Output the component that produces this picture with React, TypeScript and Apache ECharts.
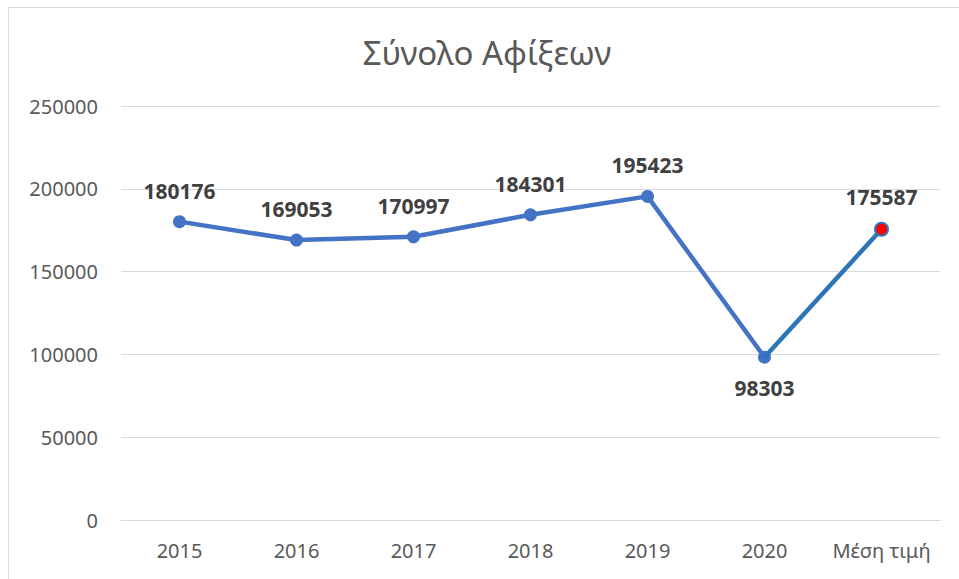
import React, { useEffect, useRef } from "react";
import * as echarts from "echarts";

const title = "Σύνολο Αφίξεων";
const categories = ["2015", "2016", "2017", "2018", "2019", "2020", "Μέση τιμή"];
const yearValues = [180176, 169053, 170997, 184301, 195423, 98303];
const averageValue = 175587;
const yTicks = { min: 0, max: 250000, interval: 50000 };

const FONT = "'Noto Sans', 'Open Sans', sans-serif";

export default function App() {
  const ref = useRef<HTMLDivElement>(null);
  useEffect(() => {
    if (!ref.current) return;
    const chart = echarts.init(ref.current, null, { renderer: "svg" });
    const n = yearValues.length;
    const series1: any[] = [...yearValues, "-"].map((v, i) =>
      i === n - 1 ? { value: v, label: { position: "bottom", distance: 14 } } : v
    );
    const series2: any[] = categories.map((_, i) => {
      if (i === n - 1) return { value: yearValues[n - 1], symbol: "none", label: { show: false } };
      if (i === n) return { value: averageValue };
      return "-";
    });
    const labelStyle = {
      show: true,
      position: "top",
      distance: 14,
      color: "#404040",
      fontSize: 21,
      fontWeight: "bold",
      fontFamily: FONT,
      formatter: (p: any) => String(p.value),
    };
    chart.setOption({
      animation: false,
      backgroundColor: "#ffffff",
      textStyle: { fontFamily: FONT },
      graphic: [
        { type: "line", shape: { x1: 8.5, y1: 7.5, x2: 959, y2: 7.5 }, style: { stroke: "#d9d9d9", lineWidth: 1 } },
        { type: "line", shape: { x1: 8.5, y1: 7.5, x2: 8.5, y2: 579 }, style: { stroke: "#d9d9d9", lineWidth: 1 } },
        {
          type: "text",
          x: 487,
          y: 52,
          style: { text: title, align: "center", verticalAlign: "middle", fontSize: 33, fill: "#595959", fontFamily: FONT },
        },
      ],
      grid: { left: 121, right: 19, top: 106, bottom: 59, containLabel: false },
      xAxis: {
        type: "category",
        data: categories,
        boundaryGap: true,
        axisLine: { lineStyle: { color: "#d9d9d9", width: 1 } },
        axisTick: { show: false },
        axisLabel: { color: "#595959", fontSize: 20, margin: 20, fontFamily: FONT, interval: 0 },
      },
      yAxis: {
        type: "value",
        min: yTicks.min,
        max: yTicks.max,
        interval: yTicks.interval,
        axisLine: { show: false },
        axisTick: { show: false },
        splitLine: { lineStyle: { color: "#d9d9d9", width: 1 } },
        axisLabel: { color: "#595959", fontSize: 20, margin: 23, fontFamily: FONT, formatter: (v: number) => String(v) },
      },
      series: [
        {
          type: "line",
          data: series1,
          symbol: "circle",
          symbolSize: 13,
          lineStyle: { color: "#4472C4", width: 4.5 },
          itemStyle: { color: "#4472C4" },
          z: 2,
          label: labelStyle,
          emphasis: { disabled: true },
        },
        {
          type: "line",
          data: series2,
          symbol: "circle",
          symbolSize: 13,
          lineStyle: { color: "#2E75B6", width: 4.5 },
          itemStyle: { color: "#FF0000", borderColor: "#2E75B6", borderWidth: 2 },
          z: 3,
          label: labelStyle,
          emphasis: { disabled: true },
        },
      ],
    });
    return () => chart.dispose();
  }, []);
  return (
    <div
      ref={ref}
      style={{ position: "absolute", left: 0, top: 0, width: 959, height: 579 }}
    />
  );
}
